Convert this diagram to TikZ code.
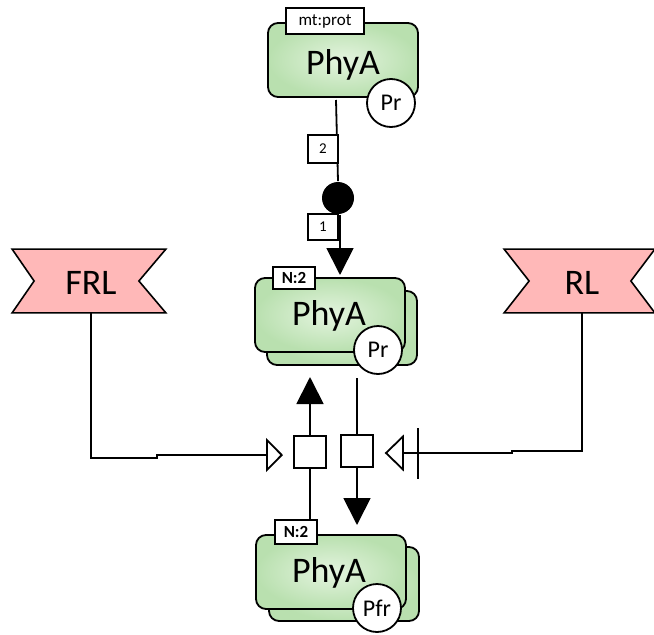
\documentclass[tikz,border=0pt]{standalone}
\usepackage{fontspec}
\setmainfont{Carlito}
\usetikzlibrary{arrows.meta,calc}
\definecolor{gin}{HTML}{E4F4DF}
\definecolor{gout}{HTML}{B9E0AF}
\definecolor{tagpink}{HTML}{FFB8B8}
\begin{document}
\begin{tikzpicture}[x=1pt,y=-1pt,line width=1.8pt,
  epn/.style={draw,rounded corners=10pt,inner color=gin,outer color=gout,minimum width=150pt,minimum height=74pt,line width=1.8pt},
  uinfo/.style={draw,fill=white,inner sep=0pt,line width=1.8pt},
  svar/.style={draw,circle,fill=white,minimum size=48pt,inner sep=0pt,font=\fontsize{24}{26}\selectfont},
  lbl/.style={anchor=base,font=\fontsize{36}{40}\selectfont},
  pbox/.style={draw,fill=white,minimum size=32pt,inner sep=0pt,line width=1.3pt},
  tagbox/.style={minimum width=152pt,minimum height=62pt,inner sep=0pt},
  numbox/.style={draw,fill=white,line width=1.3pt,minimum width=30pt,inner sep=0pt,font=\fontsize{15}{17}\selectfont},
  fill tri/.style={-{Triangle[length=27pt,width=27pt]}},
  open tri/.style={-{Triangle[open,length=17pt,width=34pt]}}]
\useasboundingbox (0,0) rectangle (654,635);
% top PhyA
\node[epn] (top) at (343,60) {};
\node[lbl] (toplbl) at (343,74) {PhyA};
\node[uinfo,minimum width=78pt,minimum height=26pt,font=\fontsize{17}{19}\selectfont] (topui) at (325,21) {mt:prot};
\node[svar] (toppr) at (391,103) {Pr};
% middle PhyA multimer
\node[epn] (midback) at (342,328) {};
\node[epn] (mid) at (330,315) {};
\node[lbl] (midlbl) at (329,325) {PhyA};
\node[uinfo,minimum width=42pt,minimum height=22pt,font=\bfseries\fontsize{17}{19}\selectfont] (midui) at (294,278) {N:2};
\node[svar] (midpr) at (378,350) {Pr};
% bottom PhyA multimer
\node[epn] (botback) at (344,584) {};
\node[epn] (bot) at (331,572) {};
\node[lbl] (botlbl) at (329,582) {PhyA};
\node[uinfo,minimum width=42pt,minimum height=24pt,font=\bfseries\fontsize{17}{19}\selectfont] (botui) at (296,532) {N:2};
\node[svar] (botpr) at (377,608) {Pfr};
% tags
\node[tagbox] (frl) at (89,281) {};
\draw[fill=tagpink,line width=1.6pt] (frl.north west) -- (frl.north east) -- ($(frl.east)+(-27,0)$) -- (frl.south east) -- (frl.south west) -- ($(frl.west)+(22,0)$) -- cycle;
\node[lbl] (frllbl) at (91,294) {FRL};
\node[tagbox,minimum width=149pt] (rl) at (579.5,281) {};
\draw[fill=tagpink,line width=1.6pt] (rl.north west) -- (rl.north east) -- ($(rl.east)+(-24,0)$) -- (rl.south east) -- (rl.south west) -- ($(rl.west)+(25,0)$) -- cycle;
\node[lbl] (rllbl) at (582,294) {RL};
% association
\node[circle,fill=black,minimum size=32pt,inner sep=0pt] (assoc) at (338,198) {};
\coordinate (topout) at (336,100);
\coordinate (tipmid) at (340,275);
\draw (topout) -- (assoc.north);
\draw[fill tri] (assoc.south -| tipmid) -- (tipmid);
\node[numbox,minimum height=28pt] (b2) at (323,149) {2};
\node[numbox,minimum height=26pt] (b1) at (323,227) {1};
% processes
\node[pbox] (pL) at (310,452) {};
\node[pbox] (pR) at (357,451) {};
\coordinate (tipL) at (310,377);
\coordinate (startR) at (357,378);
\coordinate (tipR) at (357,525);
\draw (pL.south |- botui.north) -- (pL.south);
\draw[fill tri] (pL.north) -- (tipL);
\draw (startR) -- (pR.north);
\draw[fill tri] (pR.south) -- (tipR);
% FRL stimulation
\coordinate (frlc) at (91,458);
\coordinate (frlj) at (157,458);
\coordinate (frltip) at (283,455);
\draw[open tri] (frl.south -| frlc) -- (frlc) -- (frlj) -- (frlj |- frltip) -- (frltip);
% RL necessary stimulation
\coordinate (rlc) at (582,451);
\coordinate (rlj) at (512,451);
\coordinate (rlbase) at (403,453);
\coordinate (rlbar) at (418,453);
\coordinate (rltip) at (386,453);
\draw (rl.south -| rlc) -- (rlc) -- (rlj) -- (rlj |- rlbase) -- (rlbase);
\draw (rlbar) ++(0,-25) -- ++(0,51);
\draw[fill=white,line join=miter] (rlbase) ++(0,-16.5) -- (rltip) -- ($(rlbase)+(0,16.5)$) -- cycle;
\end{tikzpicture}
\end{document}
